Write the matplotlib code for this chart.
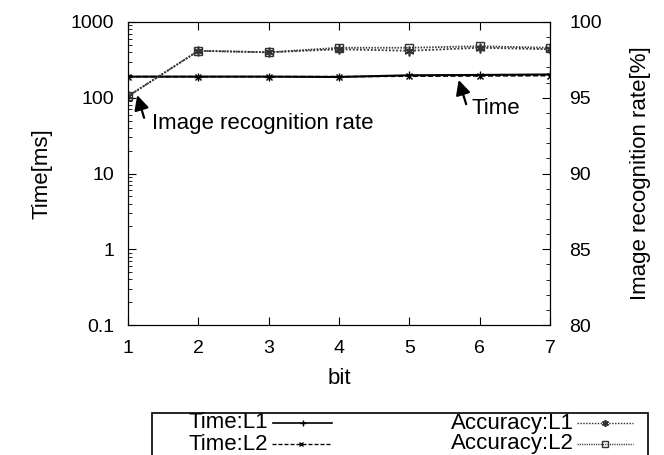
import numpy as np
import matplotlib.pyplot as plt
from matplotlib.lines import Line2D
from matplotlib.patches import Rectangle
from matplotlib.ticker import LogLocator, MultipleLocator, NullFormatter

plt.rcParams['font.family'] = ['Liberation Sans', 'DejaVu Sans']
plt.rcParams['font.size'] = 14

# data
bits = [1, 2, 3, 4, 5, 6, 7]
time_l1 = [190, 190, 190, 188, 198, 200, 203]
time_l2 = [190, 190, 190, 190, 193, 194, 196]
acc_l1 = [95.1, 98.1, 98.0, 98.2, 98.1, 98.3, 98.2]
acc_l2 = [95.1, 98.1, 98.0, 98.3, 98.3, 98.4, 98.3]
labels = ['Time:L1', 'Time:L2', 'Accuracy:L1', 'Accuracy:L2']

big = 16

fig = plt.figure(figsize=(6.64, 4.55), dpi=100)
ax = fig.add_axes([128/664, 1-325/455, 422/664, 303/455])
ax2 = ax.twinx()

styles = [dict(ls='-', marker='+', lw=1.5, ms=6),
          dict(ls=(0, (3, 1.5)), marker='x', lw=1.2, ms=4),
          dict(ls=(0, (1, 1)), marker=(6, 2, 0), lw=1.3, ms=7, mew=1.2),
          dict(ls=(0, (0.8, 0.8)), marker='s', lw=1.3, ms=6, mfc='none', mew=1.0)]

ax.plot(bits, time_l1, color='black', **styles[0])
ax.plot(bits, time_l2, color='black', **styles[1])
ax2.plot(bits, acc_l1, color='#333333', **styles[2])
ax2.plot(bits, acc_l2, color='#333333', **styles[3])

ax.set_yscale('log')
ax.set_ylim(0.1, 1000)
ax.set_xlim(1, 7)
ax.set_yticks([0.1, 1, 10, 100, 1000])
ax.set_yticklabels(['0.1', '1', '10', '100', '1000'])
ax.yaxis.set_minor_locator(LogLocator(base=10, subs=np.arange(2, 10)))
ax.yaxis.set_minor_formatter(NullFormatter())
ax.set_xticks(bits)
ax2.set_ylim(80, 100)
ax2.set_yticks([80, 85, 90, 95, 100])
ax2.yaxis.set_minor_locator(MultipleLocator(1))

ax.tick_params(axis='x', which='major', direction='in', top=True, length=6, pad=11)
ax.tick_params(axis='y', which='major', direction='in', length=6, pad=10)
ax.tick_params(axis='y', which='minor', direction='in', length=3)
ax2.tick_params(axis='y', which='major', direction='in', length=6, pad=14)
ax2.tick_params(axis='y', which='minor', direction='in', length=3)

ax.set_xlabel('bit', fontsize=big, labelpad=8)
ax.set_ylabel('Time[ms]', fontsize=big, labelpad=13)
ax2.set_ylabel('Image recognition rate[%]', fontsize=big, labelpad=20)

arrow = dict(arrowstyle='-|>', color='black', lw=1.6, mutation_scale=22)
ax2.annotate('', xy=(1.12, 95.35), xytext=(1.24, 93.5), arrowprops=arrow)
ax2.text(1.34, 93.3, 'Image recognition rate', va='center', ha='left', fontsize=big)
ax2.annotate('', xy=(5.69, 96.35), xytext=(5.82, 94.4), arrowprops=arrow)
ax2.text(5.89, 94.3, 'Time', va='center', ha='left', fontsize=big)

# legend box at the bottom, cut by the figure edge
fig.add_artist(Rectangle((152/664, -0.05), 496/664, 0.05 + 1 - 413/455,
                         transform=fig.transFigure, fill=False, lw=1.2, ec='black'))
pos = [(268, 423, 273, 332), (268, 444, 272, 330),
       (574, 423, 577, 633), (574, 444, 577, 633)]
cols = ['black', 'black', '#333333', '#333333']
for lab, (tx, ty, x0, x1), st, c in zip(labels, pos, styles, cols):
    yf = 1 - ty/455
    fig.text(tx/664, yf, lab, ha='right', va='center', fontsize=big)
    st = dict(st)
    mk = st.pop('marker')
    ms = st.pop('ms')
    extra = {k: st.pop(k) for k in ['mfc', 'mew'] if k in st}
    fig.add_artist(Line2D([x0/664, x1/664], [yf, yf], transform=fig.transFigure,
                          color=c, lw=st['lw']*0.8, ls=st['ls']))
    fig.add_artist(Line2D([(x0+x1)/2/664], [yf], transform=fig.transFigure,
                          color=c, marker=mk, ms=ms*0.7, ls='none', **extra))

plt.savefig('out.png', dpi=100)
